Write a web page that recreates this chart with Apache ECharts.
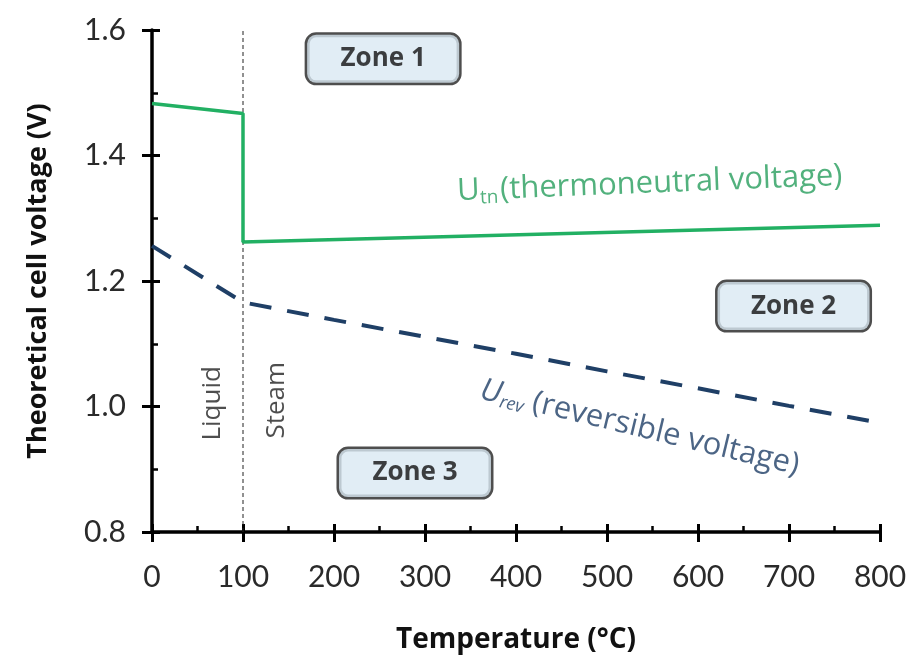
<!DOCTYPE html>
<html><head><meta charset="utf-8">
<script src="https://cdn.jsdelivr.net/npm/echarts@6/dist/echarts.min.js"></script>
<style>html,body{margin:0;padding:0;background:#fff}#c{width:914px;height:664px}</style>
</head><body><div id="c"></div>
<script>
// ---- data ----
const tnTemps = [0, 100, 100, 800];
const tnVolts = [1.483, 1.467, 1.262, 1.289];
const revTemps = [0, 100, 200, 300, 400, 500, 600, 700, 800];
const revVolts = [1.256, 1.166, 1.138, 1.111, 1.084, 1.056, 1.029, 1.001, 0.974];
const phaseTemp = 100;
const xTicks = [0, 100, 200, 300, 400, 500, 600, 700, 800];
const yTicks = [0.8, 1.0, 1.2, 1.4, 1.6];
const zoneNames = ['Zone 1', 'Zone 2', 'Zone 3'];
const zoneX = [254, 705, 289];
const zoneY = [1.554, 1.160, 0.894];
const phaseNames = ['Liquid', 'Steam'];
const phaseX = [67, 137];
const phaseY = [1.005, 1.01];
const tnLabelPos = [547, 1.355];
const revLabelPos = [536, 0.966];

const FONT = 'Lato';
const LFONT = 'Open Sans';
const chart = echarts.init(document.getElementById('c'));
const xMin = xTicks[0], xMax = xTicks[xTicks.length - 1];
const yMin = yTicks[0], yMax = yTicks[yTicks.length - 1];

function baseX(extra) {
  return Object.assign({
    type: 'value', min: xMin, max: xMax, interval: 100,
    splitLine: { show: false }
  }, extra);
}
function baseY(extra) {
  return Object.assign({
    type: 'value', min: yMin, max: yMax, interval: 0.2,
    splitLine: { show: false }
  }, extra);
}

chart.setOption({
  animation: false,
  grid: { left: 152, right: 34, top: 30, bottom: 132, containLabel: false },
  xAxis: [
    baseX({
      position: 'bottom',
      axisLine: { show: true, lineStyle: { color: '#000', width: 3.5 } },
      axisTick: { show: true, inside: false, length: 10, lineStyle: { color: '#000', width: 3 } },
      axisLabel: { margin: 30, fontFamily: FONT, fontSize: 30, color: '#2a2a2a' },
      name: 'Temperature (°C)', nameLocation: 'middle', nameGap: 94,
      nameTextStyle: { fontFamily: LFONT, fontSize: 28, fontWeight: 'bold', color: '#111' }
    }),
    baseX({
      position: 'bottom',
      axisLine: { show: false },
      axisTick: { show: true, inside: true, length: 8, lineStyle: { color: '#000', width: 3 } },
      minorTick: { show: true, splitNumber: 2, length: 6, lineStyle: { color: '#000', width: 2.5 } },
      axisLabel: { show: false }
    })
  ],
  yAxis: [
    baseY({
      position: 'left',
      axisLine: { show: true, lineStyle: { color: '#000', width: 3.5 } },
      axisTick: { show: true, inside: false, length: 10, lineStyle: { color: '#000', width: 3 } },
      axisLabel: { margin: 26, fontFamily: FONT, fontSize: 30, color: '#2a2a2a',
        formatter: v => v.toFixed(1) },
      name: 'Theoretical cell voltage (V)', nameLocation: 'middle', nameGap: 100,
      nameTextStyle: { fontFamily: LFONT, fontSize: 27, fontWeight: 'bold', color: '#111' }
    }),
    baseY({
      position: 'left',
      axisLine: { show: false },
      axisTick: { show: true, inside: true, length: 8, lineStyle: { color: '#000', width: 3 } },
      minorTick: { show: true, splitNumber: 2, length: 6, lineStyle: { color: '#000', width: 2.5 } },
      axisLabel: { show: false }
    })
  ],
  series: [
    {
      type: 'line', name: 'phase', symbol: 'none', silent: true,
      data: [[phaseTemp, yMin], [phaseTemp, yMax]],
      lineStyle: { color: '#222', width: 1, type: [4, 3] }, z: 1
    },
    {
      type: 'line', name: 'Utn', symbol: 'none',
      data: tnTemps.map((t, i) => [t, tnVolts[i]]),
      lineStyle: { color: '#22b063', width: 3.5 }, z: 3
    },
    {
      type: 'line', name: 'Urev', symbol: 'none',
      data: revTemps.map((t, i) => [t, revVolts[i]]),
      lineStyle: { color: '#1f3f66', width: 4, type: [22, 16] }, z: 3
    },
    {
      type: 'scatter', name: 'zones', symbolSize: 0, silent: true, z: 5,
      data: zoneNames.map((n, i) => ({ value: [zoneX[i], zoneY[i]], name: n })),
      label: {
        show: true, position: 'inside', formatter: p => p.name,
        fontFamily: LFONT, fontSize: 26, fontWeight: 'bold', color: '#111',
        backgroundColor: '#d9e8f2', borderColor: '#222', borderWidth: 2.5, borderRadius: 9,
        width: 152, height: 48, lineHeight: 48, align: 'center', verticalAlign: 'middle'
      }
    },
    {
      type: 'scatter', name: 'phases', symbolSize: 0, silent: true, z: 5,
      data: phaseNames.map((n, i) => ({ value: [phaseX[i], phaseY[i]], name: n })),
      label: {
        show: true, position: 'inside', rotate: 90, formatter: p => p.name,
        fontFamily: LFONT, fontSize: 26, color: '#222'
      }
    },
    {
      type: 'scatter', name: 'tnLabel', symbolSize: 0, silent: true, z: 5,
      data: [{ value: tnLabelPos, name: 'tn' }],
      label: {
        show: true, position: 'inside', rotate: 2.3,
        formatter: '{u|U}{s|tn}{t|(thermoneutral voltage)}',
        rich: {
          u: { fontFamily: LFONT, fontSize: 31, color: '#279d5c', lineHeight: 36 },
          s: { fontFamily: LFONT, fontSize: 19, color: '#279d5c', padding: [15, 2, 0, 0] },
          t: { fontFamily: LFONT, fontSize: 31, color: '#279d5c', lineHeight: 36 }
        }
      }
    },
    {
      type: 'scatter', name: 'revLabel', symbolSize: 0, silent: true, z: 5,
      data: [{ value: revLabelPos, name: 'rev' }],
      label: {
        show: true, position: 'inside', rotate: -13.5,
        formatter: '{u|U}{s|rev}{t| (reversible voltage)}',
        rich: {
          u: { fontFamily: LFONT, fontSize: 31, fontStyle: 'italic', color: '#1f3f66', lineHeight: 36 },
          s: { fontFamily: LFONT, fontSize: 18, fontStyle: 'italic', color: '#1f3f66', padding: [15, 0, 0, 0] },
          t: { fontFamily: LFONT, fontSize: 31, color: '#1f3f66', lineHeight: 36 }
        }
      }
    }
  ]
});
</script></body></html>
